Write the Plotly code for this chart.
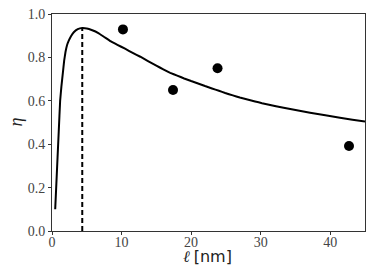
import plotly.graph_objects as go

# Model curve
curve_x = [0.46, 0.63, 0.80, 0.97, 1.17, 1.35, 1.55, 1.75, 1.94, 2.15, 2.41, 2.75, 3.13, 3.7, 4.35,
           5.0, 5.7, 6.67, 7.5, 8.39, 9.4, 10.5, 11.6, 12.7, 13.8, 15.0, 16.0, 17.0, 18.0, 19.0,
           20.0, 21.0, 22.0, 23.0, 24.0, 24.9, 26.0, 27.0, 28.1, 29.2, 30.2, 31.2, 32.2, 33.3,
           35.2, 37.1, 39.3, 41.4, 43.2, 45.0]
curve_y = [0.10, 0.22, 0.34, 0.46, 0.60, 0.665, 0.725, 0.785, 0.825, 0.855, 0.877, 0.899, 0.916, 0.93, 0.935,
           0.933, 0.926, 0.912, 0.894, 0.875, 0.858, 0.84, 0.821, 0.803, 0.783, 0.762, 0.745, 0.729, 0.716, 0.703,
           0.691, 0.680, 0.668, 0.657, 0.646, 0.636, 0.625, 0.615, 0.606, 0.597, 0.589, 0.582, 0.575, 0.568,
           0.556, 0.545, 0.533, 0.522, 0.513, 0.504]

# Measured points
pts_x = [10.2, 17.4, 23.8, 42.7]
pts_y = [0.929, 0.650, 0.750, 0.392]

# Peak marker (dashed line)
peak_x = [4.35, 4.35]
peak_y = [0.0, 0.935]

x_ticks = [0, 10, 20, 30, 40]
y_ticks = [0.0, 0.2, 0.4, 0.6, 0.8, 1.0]
y_tick_labels = ["0.0", "0.2", "0.4", "0.6", "0.8", "1.0"]

x_title = "<i>ℓ</i> <span style=\"font-family:'DejaVu Sans'\">[nm]</span>"
y_title = "<i>η</i>"

fig = go.Figure()
fig.add_trace(go.Scatter(x=peak_x, y=peak_y, mode="lines",
                         line=dict(color="black", width=2, dash="5px,3px"),
                         showlegend=False, hoverinfo="skip"))
fig.add_trace(go.Scatter(x=curve_x, y=curve_y, mode="lines",
                         line=dict(color="black", width=2, shape="spline", smoothing=0.2),
                         showlegend=False))
fig.add_trace(go.Scatter(x=pts_x, y=pts_y, mode="markers",
                         marker=dict(color="black", size=10),
                         showlegend=False))

serif = "'Liberation Serif', serif"
fig.update_layout(
    width=374, height=280,
    margin=dict(l=52, r=9, t=14, b=49),
    plot_bgcolor="white", paper_bgcolor="white",
    font=dict(family=serif, color="#222", size=14),
    xaxis=dict(range=[0, 45], tickvals=x_ticks, ticks="outside", ticklen=3,
               tickcolor="#333", showline=True, linecolor="#333", linewidth=1,
               mirror=True, showgrid=False, zeroline=False, automargin=False,
               ticklabelstandoff=-5,
               tickfont=dict(family=serif, size=14, color="#444")),
    yaxis=dict(range=[0, 1.0], tickvals=y_ticks, ticktext=y_tick_labels, ticks="outside", ticklen=3,
               tickcolor="#333", showline=True, linecolor="#333", linewidth=1,
               mirror=True, showgrid=False, zeroline=False, automargin=False,
               tickfont=dict(family=serif, size=14, color="#444")),
    annotations=[
        dict(text=x_title, xref="paper", yref="paper", x=0.498, y=-0.118,
             xanchor="center", yanchor="middle", showarrow=False,
             font=dict(family=serif, size=16, color="#222")),
        dict(text=y_title, xref="paper", yref="paper", x=-0.118, y=0.50,
             xanchor="center", yanchor="middle", showarrow=False, textangle=-90,
             font=dict(family=serif, size=18, color="#222")),
    ],
)

fig.write_html("out.html", config={"displayModeBar": False},
               post_script="document.body.style.margin='0';")
